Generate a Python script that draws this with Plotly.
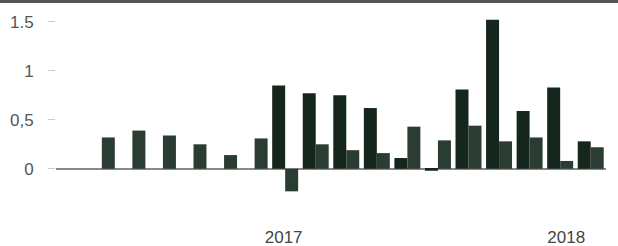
import plotly.graph_objects as go

periods = list(range(18))
series_a = [0, 0, 0, 0, 0, 0, 0, 0.85, 0.77, 0.75, 0.62, 0.11, -0.02, 0.81, 1.52, 0.59, 0.83, 0.28]
series_b = [0, 0.32, 0.39, 0.34, 0.25, 0.14, 0.31, -0.23, 0.25, 0.19, 0.16, 0.43, 0.29, 0.44, 0.28, 0.32, 0.08, 0.22]
year_ticks = [6.95, 16.2]
year_labels = ["2017", "2018"]
y_ticks = [0, 0.5, 1, 1.5]
y_labels = ["0", "0,5", "1", "1.5"]

fig = go.Figure()
fig.add_trace(go.Bar(x=periods, y=series_a, marker=dict(color="#15261c", line=dict(width=0)), name="A"))
fig.add_trace(go.Bar(x=periods, y=series_b, marker=dict(color="#2b3c32", line=dict(width=0)), name="B"))

fig.update_layout(
    template="none",
    width=618, height=246,
    margin=dict(l=56, r=12, t=12, b=38, autoexpand=False),
    paper_bgcolor="white", plot_bgcolor="white",
    barmode="group", bargap=0.15, bargroupgap=0,
    showlegend=False,
    font=dict(family="Liberation Sans, Arial, sans-serif", size=17, color="#555"),
    xaxis=dict(range=[-0.5, 17.5], tickvals=year_ticks, ticktext=year_labels,
               ticks="outside", ticklen=14, tickcolor="rgba(0,0,0,0)",
               showgrid=False, zeroline=False, showline=False, automargin=False,
               tickfont=dict(size=17, color="#444")),
    yaxis=dict(range=[-0.4, 1.6], tickvals=y_ticks, ticktext=y_labels,
               ticks="outside", ticklen=7, tickcolor="#ccc",
               ticklabelstandoff=11, automargin=False,
               showgrid=False, zeroline=True, zerolinecolor="#888", zerolinewidth=1.5,
               showline=False, tickfont=dict(size=17, color="#555")),
    shapes=[dict(type="line", xref="paper", yref="paper", x0=-0.11, x1=1.03,
                 y0=1.054, y1=1.054, line=dict(color="#555", width=3))],
)

fig.write_html("out.html", config={"displayModeBar": False},
               post_script="document.body.style.margin='0';document.body.style.overflow='hidden';")
